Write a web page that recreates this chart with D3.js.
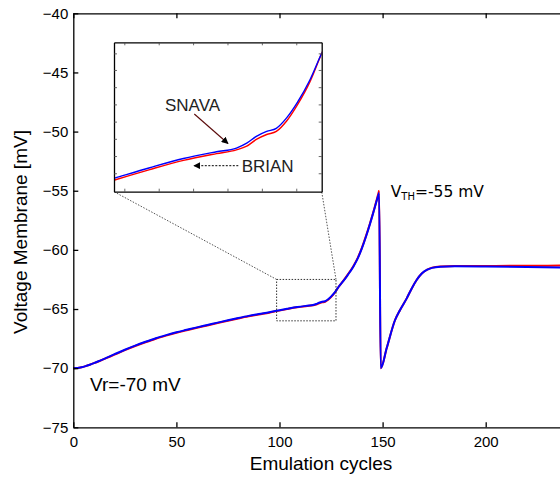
<!DOCTYPE html>
<html>
<head>
<meta charset="utf-8">
<script src="https://cdn.jsdelivr.net/npm/d3@7"></script>
<style>
  body { margin: 0; background: #fff; overflow: hidden; }
  svg { display: block; font-family: "Liberation Sans", Arial, sans-serif; }
</style>
</head>
<body>
<svg id="chart" width="560" height="477"></svg>
<script>
// emulation cycle (x) for both traces
const cycles = [0, 2, 4, 6, 8, 10, 13, 16, 20, 25, 30, 35, 40, 45, 50, 55, 60, 65, 70, 75, 80, 85, 90, 95,
  98.6, 103.7, 108.6, 113.4, 116.3, 117.8, 119.2, 120.7, 122.1, 123.6, 125.1, 127, 128.7, 130.9, 133, 135.8,
  138, 139.9, 142, 143.9, 146, 148, 148.3, 149.1, 152, 156, 158.4, 161.7, 164, 166.5, 169, 171.4, 174, 178,
  185, 200, 220, 240, 255];

// SNAVA (blue)
const snava = [-70, -69.99, -69.93, -69.83, -69.71, -69.58, -69.36, -69.13, -68.82, -68.44, -68.09, -67.77,
  -67.47, -67.21, -66.97, -66.76, -66.55, -66.35, -66.15, -65.95, -65.76, -65.58, -65.42, -65.27,
  -65.15, -64.98, -64.83, -64.72, -64.66, -64.58, -64.47, -64.39, -64.34, -64.17, -63.93, -63.55, -63.12,
  -62.65, -62.15, -61.42, -60.7, -59.9, -58.85, -57.8, -56.55, -55.35, -55.2, -70, -68.3, -65.95, -65.1,
  -64.1, -63.3, -62.55, -62.0, -61.7, -61.52, -61.42, -61.38, -61.4, -61.45, -61.5, -61.52];

// BRIAN (red)
const brian = [-70, -69.99, -69.93, -69.83, -69.71, -69.58, -69.37, -69.15, -68.86, -68.48, -68.13, -67.81,
  -67.51, -67.25, -67.01, -66.8, -66.59, -66.39, -66.19, -65.99, -65.8, -65.62, -65.46, -65.31,
  -65.18, -65.01, -64.86, -64.75, -64.69, -64.63, -64.52, -64.44, -64.39, -64.22, -63.97, -63.58, -63.12,
  -62.62, -62.11, -61.38, -60.65, -59.85, -58.8, -57.75, -56.5, -55.2, -55.0, -70, -68.3, -65.95, -65.1,
  -64.1, -63.3, -62.55, -62.0, -61.7, -61.5, -61.4, -61.36, -61.36, -61.34, -61.33, -61.32];

const xTicks = [0, 50, 100, 150, 200];
const yTicks = [-75, -70, -65, -60, -55, -50, -45, -40];
const insetXTicks = [100, 105, 110, 115, 120, 125];
const insetYTicks = [-65.07, -64.79, -64.51, -64.23, -63.95, -63.67, -63.39, -63.12];
const zoomX = [98.6, 127.4];
const zoomY = [-66, -62.5];

const svg = d3.select("#chart");
const M = { left: 73.3, top: 13.3, bottom: 427.3 };

const x = d3.scaleLinear().domain([0, 240]).range([M.left, M.left + 240 * 2.062]);
const y = d3.scaleLinear().domain([-75, -40]).range([M.bottom, M.top]);

const traces = [
  { values: brian, color: "#ff0000" },
  { values: snava, color: "#0000ff" },
];

// main traces
const line = d3.line()
  .x((d, i) => x(cycles[i]))
  .y(d => y(d))
  .curve(d3.curveMonotoneX);

traces.forEach(t => {
  svg.append("path")
    .datum(t.values)
    .attr("fill", "none")
    .attr("stroke", t.color)
    .attr("stroke-width", 2)
    .attr("stroke-linejoin", "round")
    .attr("d", line);
});

// axes (ticks point inward, matlab style)
const bottomAxis = svg.append("g")
  .attr("transform", `translate(0,${M.bottom})`)
  .call(d3.axisBottom(x).tickValues(xTicks).tickSize(-5).tickPadding(9).tickSizeOuter(0));
const leftAxis = svg.append("g")
  .attr("transform", `translate(${M.left},0)`)
  .call(d3.axisLeft(y).tickValues(yTicks).tickSize(-5).tickPadding(5).tickSizeOuter(0));
const topAxis = svg.append("g")
  .attr("transform", `translate(0,${M.top})`)
  .call(d3.axisTop(x).tickValues(xTicks).tickSize(-5).tickFormat("").tickSizeOuter(0));

[bottomAxis, leftAxis, topAxis].forEach(g => {
  g.selectAll("path, line").attr("stroke", "#000").attr("stroke-width", 1.3);
  g.selectAll("text").attr("fill", "#000").style("font-size", "15px")
    .style("font-family", "'Liberation Sans', Arial, sans-serif");
});

// axis titles
svg.append("text")
  .attr("x", 321).attr("y", 470)
  .attr("text-anchor", "middle")
  .style("font-size", "19px")
  .text("Emulation cycles");

svg.append("text")
  .attr("transform", "translate(27,232) rotate(-90)")
  .attr("text-anchor", "middle")
  .style("font-size", "19px")
  .text("Voltage Membrane [mV]");

// annotations
svg.append("text")
  .attr("x", 90).attr("y", 391)
  .style("font-size", "19px")
  .text("Vr=-70 mV");

const vth = svg.append("text")
  .attr("x", 390.7).attr("y", 197.3)
  .style("font-family", "'DejaVu Sans', sans-serif")
  .style("font-size", "15.5px");
vth.append("tspan").text("V");
vth.append("tspan").attr("dy", 3).style("font-size", "10px").text("TH");
vth.append("tspan").attr("dy", -3).text("=-55 mV");

// zoom rectangle and connectors
const dotted = "1.5,1.5";
svg.append("rect")
  .attr("x", x(zoomX[0])).attr("y", y(zoomY[1]))
  .attr("width", x(zoomX[1]) - x(zoomX[0]))
  .attr("height", y(zoomY[0]) - y(zoomY[1]))
  .attr("fill", "none").attr("stroke", "#333").attr("stroke-width", 1)
  .attr("stroke-dasharray", dotted);

const I = { left: 114, right: 321.7, top: 42.3, bottom: 191.7 };

svg.append("line")
  .attr("x1", x(zoomX[0])).attr("y1", y(zoomY[1]))
  .attr("x2", I.left).attr("y2", I.bottom)
  .attr("stroke", "#555").attr("stroke-dasharray", dotted);
svg.append("line")
  .attr("x1", x(zoomX[1])).attr("y1", y(zoomY[1]))
  .attr("x2", I.right).attr("y2", I.bottom)
  .attr("stroke", "#555").attr("stroke-dasharray", dotted);

// inset
const ix = d3.scaleLinear().domain([98.5, 128.7]).range([I.left, I.right]);
const iy = d3.scaleLinear().domain([-65.37, -62.94]).range([I.bottom, I.top]);

svg.append("defs").append("clipPath").attr("id", "insetClip")
  .append("rect")
  .attr("x", I.left).attr("y", I.top)
  .attr("width", I.right - I.left).attr("height", I.bottom - I.top);

svg.append("rect")
  .attr("x", I.left).attr("y", I.top)
  .attr("width", I.right - I.left).attr("height", I.bottom - I.top)
  .attr("fill", "#fff");

const insetLine = d3.line()
  .x((d, i) => ix(cycles[i]))
  .y(d => iy(d))
  .curve(d3.curveMonotoneX);

const insetG = svg.append("g").attr("clip-path", "url(#insetClip)");
traces.forEach(t => {
  insetG.append("path")
    .datum(t.values)
    .attr("fill", "none")
    .attr("stroke", t.color)
    .attr("stroke-width", 1.4)
    .attr("d", insetLine);
});

const insetAxes = [
  svg.append("g").attr("transform", `translate(0,${I.bottom})`)
    .call(d3.axisBottom(ix).tickValues(insetXTicks).tickSize(-3).tickFormat("").tickSizeOuter(0)),
  svg.append("g").attr("transform", `translate(0,${I.top})`)
    .call(d3.axisTop(ix).tickValues(insetXTicks).tickSize(-3).tickFormat("").tickSizeOuter(0)),
  svg.append("g").attr("transform", `translate(${I.left},0)`)
    .call(d3.axisLeft(iy).tickValues(insetYTicks).tickSize(-3).tickFormat("").tickSizeOuter(0)),
  svg.append("g").attr("transform", `translate(${I.right},0)`)
    .call(d3.axisRight(iy).tickValues(insetYTicks).tickSize(-3).tickFormat("").tickSizeOuter(0)),
];
insetAxes.forEach(g => {
  g.selectAll("path").attr("stroke", "#000").attr("stroke-width", 1.3);
  g.selectAll("line").attr("stroke", "#444").attr("stroke-width", 0.8);
});

// legend labels with arrows
const defs = svg.select("defs");
defs.append("marker")
  .attr("id", "head")
  .attr("viewBox", "0 0 10 10")
  .attr("refX", 9).attr("refY", 5)
  .attr("markerWidth", 7).attr("markerHeight", 7)
  .attr("markerUnits", "userSpaceOnUse")
  .attr("orient", "auto")
  .append("path")
  .attr("d", "M0,0 L10,5 L0,10 Z")
  .attr("fill", "#000");

svg.append("text")
  .attr("x", 165).attr("y", 110.7)
  .attr("fill", "#222")
  .style("font-size", "17px")
  .text("SNAVA");
svg.append("line")
  .attr("x1", 194.3).attr("y1", 114)
  .attr("x2", 228).attr("y2", 143.5)
  .attr("stroke", "#5a0a0a").attr("stroke-width", 1.1)
  .attr("marker-end", "url(#head)");

svg.append("text")
  .attr("x", 241.7).attr("y", 171.7)
  .attr("fill", "#222")
  .style("font-size", "17px")
  .text("BRIAN");
svg.append("line")
  .attr("x1", 238.3).attr("y1", 165.7)
  .attr("x2", 194).attr("y2", 165.7)
  .attr("stroke", "#000").attr("stroke-width", 1)
  .attr("stroke-dasharray", "2,1.5")
  .attr("marker-end", "url(#head)");
</script>
</body>
</html>
